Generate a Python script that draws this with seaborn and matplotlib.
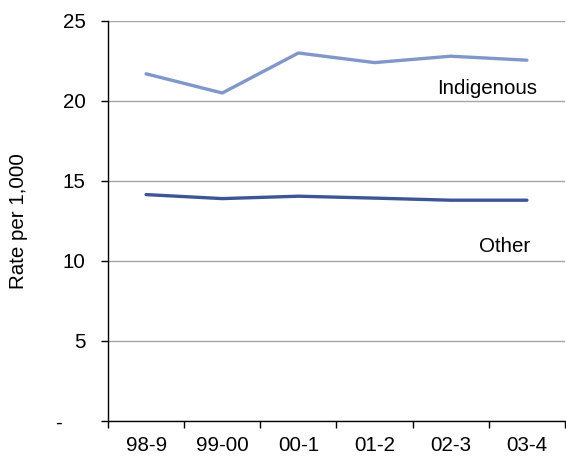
import matplotlib
matplotlib.use("Agg")
import matplotlib.pyplot as plt
import seaborn as sns
import pandas as pd
import numpy as np

years = ["98-9", "99-00", "00-1", "01-2", "02-3", "03-4"]
indigenous = [21.7, 20.5, 23.0, 22.4, 22.8, 22.55]
other = [14.15, 13.9, 14.05, 13.93, 13.8, 13.8]
yticks = [0, 5, 10, 15, 20, 25]
ytick_labels = ["-    ", "5", "10", "15", "20", "25"]

sns.set_theme(style="white")
plt.rcParams['font.family'] = ['Liberation Sans', 'DejaVu Sans']
plt.rcParams['text.color'] = 'black'
plt.rcParams['axes.labelcolor'] = 'black'
plt.rcParams['xtick.color'] = 'black'
plt.rcParams['ytick.color'] = 'black'

df = pd.DataFrame({
    "year": years * 2,
    "rate": indigenous + other,
    "group": ["Indigenous"] * len(years) + ["Other"] * len(years),
})

FS = 14.8
fig = plt.figure(figsize=(5.66, 4.61), dpi=100)
ax = fig.add_axes([108/566, 40/461, 457/566, 400/461])

sns.lineplot(data=df, x="year", y="rate", hue="group",
             palette={"Indigenous": "#7f97c9", "Other": "#3c5594"},
             linewidth=2.4, ax=ax, legend=False, sort=False)

ax.set_xlim(-0.5, 5.5)
ax.set_ylim(0, 25)
ax.set_yticks(yticks)
ax.set_yticklabels(ytick_labels, fontsize=FS)
ax.set_xticks(range(len(years)))
ax.set_xticklabels(years, fontsize=FS)
ax.set_xticks(np.arange(-0.5, 6.0, 1.0), minor=True)
ax.tick_params(axis="x", which="major", bottom=True, length=0, pad=10.5)
ax.tick_params(axis="x", which="minor", bottom=True, length=5, width=1, color="black", direction="out")
ax.tick_params(axis="y", which="major", left=True, length=5, width=1, color="black", direction="out", pad=11)
ax.yaxis.grid(True, color="#a6a6a6", linewidth=1)
ax.set_axisbelow(True)
for s in ["top", "right"]:
    ax.spines[s].set_visible(False)
for s in ["left", "bottom"]:
    ax.spines[s].set_color("black")
    ax.spines[s].set_linewidth(1)

ax.set_xlabel("")
ax.set_ylabel("Rate per 1,000", fontsize=FS)
ax.yaxis.set_label_coords(-0.175, 0.5)

ax.text(4.475, 20.75, "Indigenous", fontsize=FS, ha="center", va="center")
ax.text(4.71, 10.9, "Other", fontsize=FS, ha="center", va="center")

fig.savefig("out.png", dpi=100)
